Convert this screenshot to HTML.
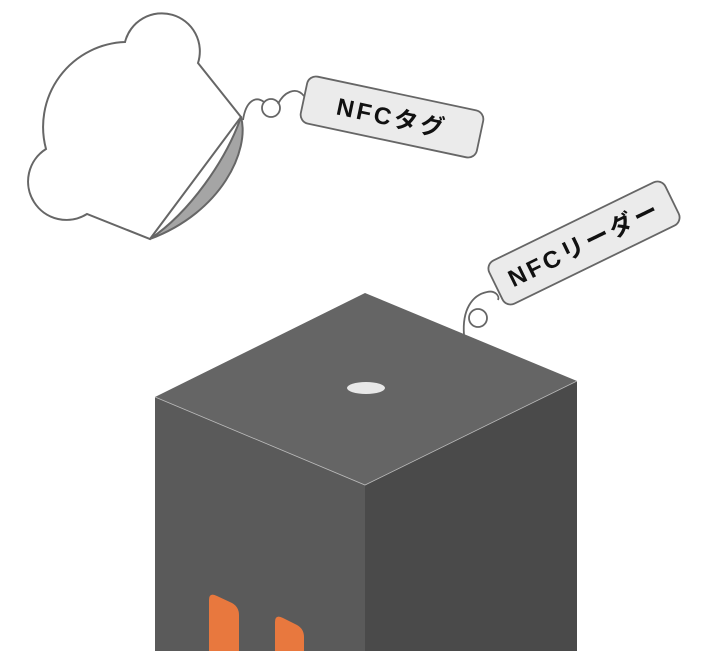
<!DOCTYPE html>
<html><head><meta charset="utf-8"><style>
html,body{margin:0;padding:0;background:#fff;width:704px;height:651px;overflow:hidden}
svg{display:block}
text{font-family:"Liberation Sans","Noto Sans CJK JP",sans-serif;font-weight:bold;fill:#111}
</style></head><body>
<svg width="704" height="651" viewBox="0 0 704 651">
<!-- box -->
<polygon points="155,397 365,485 365,651 155,651" fill="#5a5a5a"/>
<polygon points="365,485 577,381 577,651 365,651" fill="#4a4a4a"/>
<polygon points="365,293 577,381 365,485 155,397" fill="#656565"/>
<polyline points="155,397 365,485 577,381" fill="none" stroke="#bbb" stroke-width="0.8"/>
<ellipse cx="366" cy="388" rx="19" ry="6" fill="#e8e8e8"/>
<path d="M209,600 Q209,592 217,596 L232,603 Q239,607 239,615 L239,651 L209,651 Z" fill="#e8783e"/>
<path d="M275,622 Q275,614 283,618 L297,625 Q304,629 304,637 L304,651 L275,651 Z" fill="#e8783e"/>
<!-- tag -->
<path d="M198,63 L241,117 L150,239 L87,214 A38,38 0 1 1 46,149 A85,85 0 0 1 125,42 A38,38 0 1 1 198,63 Z" fill="#fff" stroke="#666" stroke-width="2"/>
<path d="M241,117 C250,150 222,212 150,239 C190,212 226,160 241,117 Z" fill="#a5a5a5" stroke="#666" stroke-width="2" stroke-linejoin="round"/>
<!-- string 1 -->
<path d="M243,120 C246,100 256,96 264,102 M278,104 C284,92 296,86 304,96" fill="none" stroke="#666" stroke-width="1.8"/>
<circle cx="271" cy="108" r="9" fill="none" stroke="#666" stroke-width="1.8"/>
<g transform="translate(392,117) rotate(12)">
<rect x="-90" y="-24" width="180" height="48" rx="9" fill="#ebebeb" stroke="#666" stroke-width="1.8"/>
<text x="0" y="9" font-size="24" text-anchor="middle" letter-spacing="3">NFCタグ</text>
</g>
<!-- string 2 -->
<path d="M464,335 C462,310 472,295 487,292 C495,290 500,296 498,300" fill="none" stroke="#666" stroke-width="1.8"/>
<circle cx="478" cy="318" r="9" fill="none" stroke="#666" stroke-width="1.8"/>
<g transform="translate(584,243) rotate(-26)">
<rect x="-98" y="-24" width="196" height="48" rx="9" fill="#ebebeb" stroke="#666" stroke-width="1.8"/>
<text x="0" y="9" font-size="24" text-anchor="middle" letter-spacing="3">NFCリーダー</text>
</g>
</svg>
</body></html>
